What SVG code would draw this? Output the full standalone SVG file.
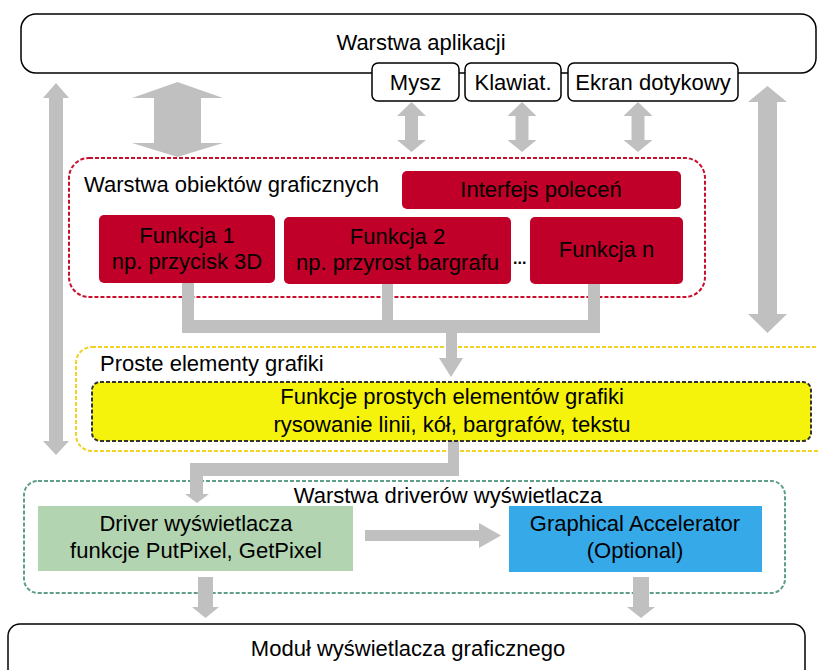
<svg xmlns="http://www.w3.org/2000/svg" width="818" height="670" viewBox="0 0 818 670">
<style>
text{font-family:"Liberation Sans",Arial,sans-serif;font-size:22px;fill:#000}
.c{text-anchor:middle}
.wbox{fill:#fff;stroke:#000;stroke-width:1.5}
.red{fill:#c00028}
.arr{fill:#c0c0c0;stroke:none}
</style>
<rect width="818" height="670" fill="#fff"/>

<g id="app-layer">
<rect class="wbox" x="21" y="14" width="795" height="59" rx="15"/>
<text class="c" x="421" y="50">Warstwa aplikacji</text>
</g>

<g id="obj-layer">
<rect x="69" y="158" width="636" height="139" rx="20" fill="none" stroke="#c8102e" stroke-width="2" stroke-dasharray="4 2"/>
<text x="84" y="192">Warstwa obiektów graficznych</text>
</g>

<g id="prim-layer">
<rect x="76" y="347" width="760" height="104" rx="16" fill="none" stroke="#f2d225" stroke-width="2" stroke-dasharray="4 2"/>
<text x="100" y="371">Proste elementy grafiki</text>
</g>

<g id="drv-layer">
<rect x="24" y="481" width="761" height="112" rx="14" fill="none" stroke="#5f9e8a" stroke-width="2" stroke-dasharray="4 2"/>
<text class="c" x="448" y="503">Warstwa driverów wyświetlacza</text>
</g>

<g id="connectors">
<polygon class="arr" points="56,83 69,98 63,98 63,441 69,441 56,455 43,441 49,441 49,98 43,98"/>
<polygon class="arr" points="177.5,82 223,98 201,98 201,143 223,143 177.5,157 132,143 154,143 154,98 132,98"/>
<polygon class="arr" points="411.5,102 426,116 418,116 418,140 426,140 411.5,152 397,140 405,140 405,116 397,116"/>
<polygon class="arr" points="522,102 536.5,116 528.5,116 528.5,140 536.5,140 522,152 507.5,140 515.5,140 515.5,116 507.5,116"/>
<polygon class="arr" points="638,102 652.5,116 644.5,116 644.5,140 652.5,140 638,152 623.5,140 631.5,140 631.5,116 623.5,116"/>
<polygon class="arr" points="767.5,86 787,102 777,102 777,314 787,314 767.5,333 748,314 758,314 758,102 748,102"/>
<polygon class="arr" points="182,283 194,283 194,320 382,320 382,283 393,283 393,320 588,320 588,283 600,283 600,333 457,333 457,358 463,358 451,377 439,358 446,358 446,333 182,333"/>
<polygon class="arr" points="448,441 459,441 459,476 203,476 203,494 209,494 197,503 185,494 190,494 190,463 448,463"/>
<polygon class="arr" points="365,530 479,530 479,523 501,535.5 479,548 479,541 365,541"/>
<polygon class="arr" points="198,577 213,577 213,607 219,607 205.5,618 192,607 198,607"/>
<polygon class="arr" points="633,577 649,577 649,607 655,607 641,618 627,607 633,607"/>
</g>

<g id="mysz">
<rect class="wbox" x="372" y="63" width="87" height="38" rx="6"/>
<text class="c" x="415.5" y="90">Mysz</text>
</g>
<g id="klawiat">
<rect class="wbox" x="465" y="63" width="96" height="38" rx="6"/>
<text class="c" x="513" y="90">Klawiat.</text>
</g>
<g id="ekran">
<rect class="wbox" x="568" y="63" width="170" height="38" rx="6"/>
<text class="c" x="653" y="90">Ekran dotykowy</text>
</g>

<g id="interfejs">
<rect class="red" x="402" y="171" width="279" height="38" rx="5"/>
<text class="c" x="541" y="197">Interfejs poleceń</text>
</g>
<g id="funkcja1">
<rect class="red" x="99" y="215" width="176" height="68" rx="5"/>
<text class="c" x="187" y="243">Funkcja 1</text>
<text class="c" x="187" y="269">np. przycisk 3D</text>
</g>
<g id="funkcja2">
<rect class="red" x="284" y="217" width="227" height="67" rx="5"/>
<text class="c" x="397.5" y="244">Funkcja 2</text>
<text class="c" x="397.5" y="270">np. przyrost bargrafu</text>
</g>
<g id="dots">
<text x="513" y="264" style="font-size:16px;font-weight:bold">...</text>
</g>
<g id="funkcjan">
<rect class="red" x="530" y="217" width="153" height="67" rx="5"/>
<text class="c" x="606.5" y="257">Funkcja n</text>
</g>

<g id="prim-box">
<rect x="92" y="382" width="719" height="59" rx="8" fill="#f5f20c" stroke="#333" stroke-width="2" stroke-dasharray="4 2"/>
<text class="c" x="452" y="404">Funkcje prostych elementów grafiki</text>
<text class="c" x="452" y="432">rysowanie linii, kół, bargrafów, tekstu</text>
</g>

<g id="driver">
<rect x="38" y="506" width="315" height="65" fill="#b3d4b0"/>
<text class="c" x="196" y="531">Driver wyświetlacza</text>
<text class="c" x="196" y="558">funkcje PutPixel, GetPixel</text>
</g>
<g id="accel">
<rect x="509" y="506" width="253" height="66" fill="#36a9e8"/>
<text class="c" x="635" y="531">Graphical Accelerator</text>
<text class="c" x="635" y="558">(Optional)</text>
</g>

<g id="display">
<rect class="wbox" x="8" y="624" width="797" height="62" rx="12"/>
<text class="c" x="408" y="656">Moduł wyświetlacza graficznego</text>
</g>
</svg>
